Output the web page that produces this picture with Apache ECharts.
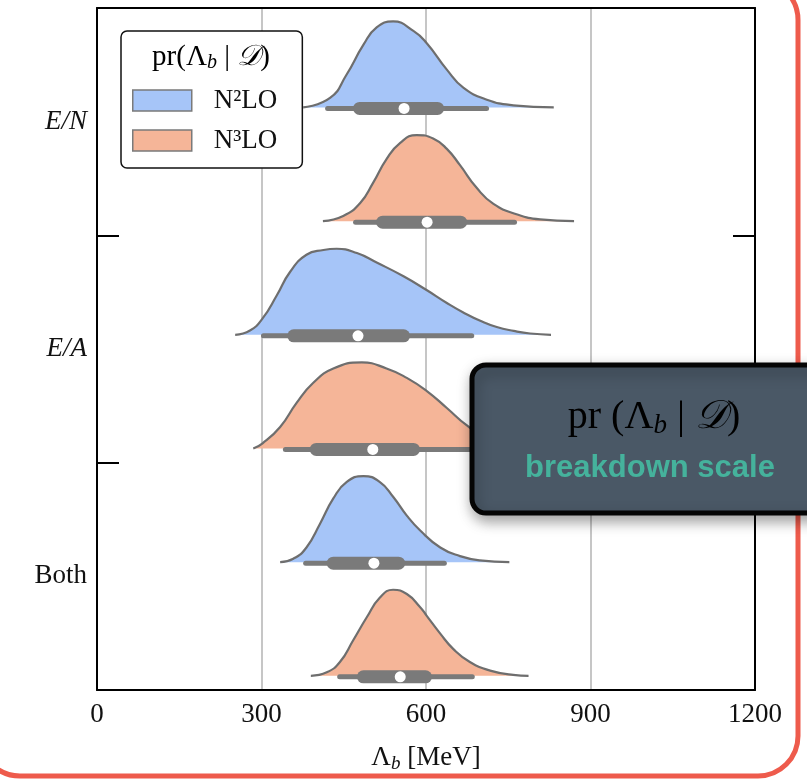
<!DOCTYPE html>
<html>
<head>
<meta charset="utf-8">
<script src="https://cdn.jsdelivr.net/npm/echarts@6/dist/echarts.min.js"></script>
<style>
  html, body { margin: 0; padding: 0; background: #fff; }
  #chart { width: 807px; height: 779px; }
</style>
</head>
<body>
<div id="chart"></div>
<script>
// Observables (rows) and EFT orders (legend entries)
const categories = ['E/N', 'E/A', 'Both'];
const models = ['N²LO', 'N³LO'];
const xTicks = [0, 300, 600, 900, 1200];

// Posterior profiles: [Λb in MeV, density relative to the mode]
const enN2lo = [[376,0],[425,0.11],[455,0.38],[486,0.73],[510,0.93],[540,1],[577,0.89],[601,0.75],[638,0.44],[668,0.23],[711,0.09],[759,0.025],[833,0]];
const enN3lo = [[412,0],[449,0.06],[480,0.21],[504,0.45],[528,0.72],[553,0.91],[583,1],[613,0.96],[638,0.84],[662,0.65],[692,0.39],[723,0.2],[765,0.08],[808,0.02],[870,0]];
const eaN2lo = [[252,0],[279,0.05],[302,0.19],[328,0.46],[352,0.73],[382,0.93],[413,0.985],[437,1],[474,0.95],[510,0.84],[559,0.68],[601,0.52],[638,0.37],[668,0.26],[700,0.16],[729,0.09],[760,0.045],[790,0.015],[828,0]];
const eaN3lo = [[285,0],[302,0.06],[334,0.25],[364,0.53],[394,0.76],[431,0.93],[483,1],[528,0.93],[565,0.82],[601,0.67],[638,0.47],[674,0.27],[712,0.12],[770,0.03],[850,0]];
const bothN2lo = [[334,0],[358,0.04],[382,0.17],[407,0.45],[431,0.74],[455,0.93],[486,1],[516,0.93],[540,0.76],[565,0.54],[589,0.37],[626,0.17],[662,0.07],[698,0.02],[752,0]];
const bothN3lo = [[390,0],[419,0.04],[443,0.16],[467,0.41],[492,0.68],[516,0.91],[540,1],[565,0.95],[589,0.8],[601,0.7],[626,0.49],[650,0.31],[680,0.16],[717,0.06],[759,0.01],[787,0]];

// Box summaries: [whisker low, q1, median, q3, whisker high] in MeV
const enN2loBox = [416, 467, 560, 633, 715];
const enN3loBox = [467, 509, 602, 675, 766];
const eaN2loBox = [299, 347, 476, 571, 688];
const eaN3loBox = [339, 388, 503, 589, 700];
const bothN2loBox = [376, 419, 505, 562, 638];
const bothN3loBox = [438, 474, 553, 611, 689];

const violins = [
  { model: 0, density: enN2lo, box: enN2loBox },
  { model: 1, density: enN3lo, box: enN3loBox },
  { model: 0, density: eaN2lo, box: eaN2loBox },
  { model: 1, density: eaN3lo, box: eaN3loBox },
  { model: 0, density: bothN2lo, box: bothN2loBox },
  { model: 1, density: bothN3lo, box: bothN3loBox }
];

const FILLS = ['#a6c5f8', '#f5b598'];
const OUTLINE = '#6e6e6e';
const BOX_GRAY = '#7a7a7a';
const SERIF = '"Liberation Serif", "DejaVu Serif", serif';
const BASE_OFFSET = 0.875;   // baseline of each half-violin inside its slot
const PEAK = 0.757;          // height of the mode, in slot units

const chart = echarts.init(document.getElementById('chart'), null, { renderer: 'canvas' });

const series = [];
violins.forEach((v, i) => {
  const base = i + BASE_OFFSET;
  series.push({
    type: 'line',
    name: models[v.model],
    xAxisIndex: 0,
    yAxisIndex: 2,
    data: v.density.map(([x, d]) => [x, base - d * PEAK]),
    smooth: 0.5,
    symbol: 'none',
    showSymbol: false,
    silent: true,
    lineStyle: { color: OUTLINE, width: 2.2 },
    itemStyle: { color: FILLS[v.model] },
    areaStyle: { color: FILLS[v.model], opacity: 1, origin: base },
    z: 2
  });
});

series.push({
  type: 'custom',
  name: 'box',
  xAxisIndex: 0,
  yAxisIndex: 2,
  silent: true,
  z: 5,
  encode: { x: [0, 1, 2, 3, 4], y: 5 },
  data: violins.map((v, i) => [...v.box, i + BASE_OFFSET]),
  renderItem: (params, api) => {
    const y = api.coord([0, api.value(5)])[1] + 1;
    const xs = [0, 1, 2, 3, 4].map(k => api.coord([api.value(k), 0])[0]);
    return {
      type: 'group',
      children: [
        { type: 'rect', shape: { x: xs[0], y: y - 2.5, width: xs[4] - xs[0], height: 5, r: 2.5 }, style: { fill: BOX_GRAY } },
        { type: 'rect', shape: { x: xs[1], y: y - 6.5, width: xs[3] - xs[1], height: 13, r: 6.5 }, style: { fill: BOX_GRAY } },
        { type: 'circle', shape: { cx: xs[2], cy: y, r: 5.5 }, style: { fill: '#ffffff' } }
      ]
    };
  }
});

const mathRich = {
  n: { fontFamily: SERIF, fontSize: 27, color: '#111' },
  s: { fontFamily: SERIF, fontSize: 19, fontStyle: 'italic', color: '#111', padding: [12, 0, 0, 0] },
  d: { fontFamily: SERIF, fontSize: 27, fontStyle: 'italic', color: '#111' }
};

const option = {
  animation: false,
  backgroundColor: '#ffffff',
  grid: { left: 97, right: 52, top: 8, bottom: 89, containLabel: false },
  xAxis: [
    {
      type: 'value', position: 'bottom', min: 0, max: 1200, interval: 300,
      axisLine: { show: true, onZero: false, lineStyle: { color: '#000', width: 2 } },
      axisTick: { show: false },
      splitLine: { show: true, lineStyle: { color: '#b3b3b3', width: 1.5 } },
      axisLabel: {
        margin: 11, fontFamily: SERIF, fontSize: 27, color: '#111',
        formatter: v => xTicks.includes(v) ? String(v) : ''
      },
      name: '{n|Λ}{s|b}{n| [MeV]}',
      nameLocation: 'middle',
      nameGap: 52,
      nameTextStyle: { rich: mathRich }
    },
    {
      type: 'value', position: 'top', min: 0, max: 1200,
      axisLine: { show: true, onZero: false, lineStyle: { color: '#000', width: 2 } },
      axisTick: { show: false }, axisLabel: { show: false }, splitLine: { show: false }
    }
  ],
  yAxis: [
    {
      type: 'category', data: categories, inverse: true, position: 'left', z: 6,
      axisLine: { show: true, onZero: false, lineStyle: { color: '#000', width: 2 } },
      axisTick: { show: true, inside: true, length: 22, lineStyle: { color: '#000', width: 2 } },
      splitLine: { show: false },
      axisLabel: {
        margin: 10,
        formatter: v => v === 'Both' ? '{r|' + v + '}' : '{i|' + v + '}',
        rich: {
          r: { fontFamily: SERIF, fontSize: 27, color: '#111' },
          i: { fontFamily: SERIF, fontSize: 27, fontStyle: 'italic', color: '#111' }
        }
      }
    },
    {
      type: 'category', data: categories, inverse: true, position: 'right', z: 6,
      axisLine: { show: true, onZero: false, lineStyle: { color: '#000', width: 2 } },
      axisTick: { show: true, inside: true, length: 22, lineStyle: { color: '#000', width: 2 } },
      axisLabel: { show: false }, splitLine: { show: false }
    },
    { type: 'value', min: 0, max: 6, inverse: true, show: false }
  ],
  legend: {
    data: models,
    orient: 'vertical',
    left: 121,
    top: 31,
    padding: [56, 25, 14, 11],
    itemGap: 13,
    itemWidth: 59,
    itemHeight: 21,
    icon: 'rect',
    selectedMode: false,
    backgroundColor: '#ffffff',
    borderColor: '#111',
    borderWidth: 1.5,
    borderRadius: 6,
    itemStyle: { borderColor: '#7a7a7a', borderWidth: 1.5 },
    lineStyle: { width: 0 },
    textStyle: { fontFamily: SERIF, fontSize: 27, color: '#111', padding: [0, 0, 0, 17] },
    z: 8
  },
  graphic: [
    {
      type: 'text', x: 211, y: 57, z: 20,
      style: {
        text: '{n|pr(Λ}{s|b}{n| | }{d|𝒟}{n|)}',
        align: 'center', verticalAlign: 'middle',
        rich: {
          n: { fontFamily: SERIF, fontSize: 29, color: '#111' },
          s: { fontFamily: SERIF, fontSize: 20, fontStyle: 'italic', color: '#111', padding: [12, 0, 0, 0] },
          d: { fontFamily: SERIF, fontSize: 29, fontStyle: 'italic', color: '#111' }
        }
      }
    },
    {
      type: 'rect', z: 30,
      shape: { x: -20, y: -20, width: 818, height: 796, r: 40 },
      style: { fill: 'none', stroke: '#ee5b4c', lineWidth: 5 }
    },
    {
      type: 'rect', z: 40,
      shape: { x: 472, y: 365, width: 360, height: 148, r: 14 },
      style: {
        fill: '#4a5866', stroke: '#050505', lineWidth: 5,
        shadowBlur: 14, shadowOffsetX: 2, shadowOffsetY: 6, shadowColor: 'rgba(0,0,0,0.35)'
      }
    },
    {
      type: 'text', x: 654, y: 417, z: 41,
      style: {
        text: '{n|pr (Λ}{s|b}{n| | }{d|𝒟}{n|)}',
        align: 'center', verticalAlign: 'middle',
        rich: {
          n: { fontFamily: SERIF, fontSize: 40, color: '#f4f6f8' },
          s: { fontFamily: SERIF, fontSize: 27, fontStyle: 'italic', color: '#f4f6f8', padding: [17, 0, 0, 0] },
          d: { fontFamily: SERIF, fontSize: 40, fontStyle: 'italic', color: '#f4f6f8' }
        }
      }
    },
    {
      type: 'text', x: 650, y: 468, z: 41,
      style: {
        text: 'breakdown scale',
        align: 'center', verticalAlign: 'middle',
        fontFamily: '"Liberation Sans", Arial, sans-serif', fontWeight: 'bold', fontSize: 31,
        fill: '#45b29c'
      }
    }
  ],
  series: series
};

chart.setOption(option);
</script>
</body>
</html>
